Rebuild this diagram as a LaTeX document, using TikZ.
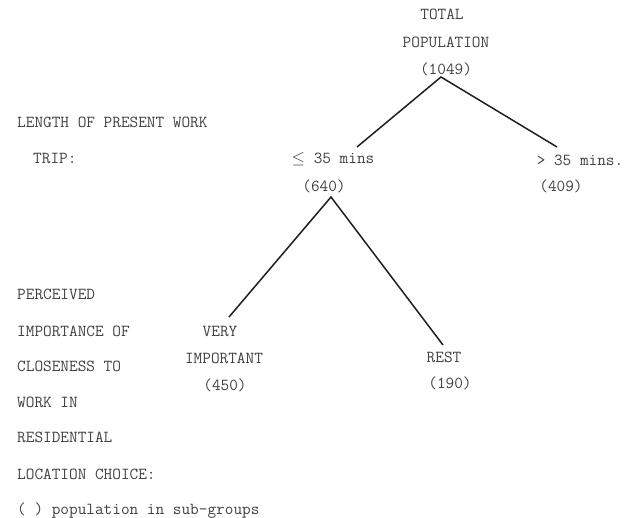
\documentclass[tikz,border=0pt]{standalone}
\begin{document}
\begin{tikzpicture}[x=1pt,y=-1pt,
  lbl/.style={font=\ttfamily\fontsize{16.8}{18}\selectfont, text=black!75, inner sep=0pt, anchor=base},
  side/.style={lbl, anchor=base west},
  branch/.style={draw=black!88, line width=1.5pt}]
\useasboundingbox (0,0) rectangle (636,518);
% tree labels
\node[lbl] (tot1) at (442,20) {TOTAL};
\node[lbl] (tot2) at (446,48) {POPULATION};
\node[lbl] (tot3) at (446,75) {(1049)};
\node[lbl] (le1) at (333,164) {$\le$ 35 mins};
\node[lbl] (le2) at (324,192) {(640)};
\node[lbl] (gt1) at (580,166) {> 35 mins.};
\node[lbl] (gt2) at (561,192) {(409)};
\node[lbl] (vi1) at (220,336) {VERY};
\node[lbl] (vi2) at (224,363) {IMPORTANT};
\node[lbl] (vi3) at (225,390) {(450)};
\node[lbl] (re1) at (444,362) {REST};
\node[lbl] (re2) at (450,388) {(190)};
% side labels
\node[side] (s1) at (17,128) {LENGTH OF PRESENT WORK};
\node[side] (s2) at (33,164) {TRIP:};
\node[side] (p1) at (17,299) {PERCEIVED};
\node[side] (p2) at (17,336) {IMPORTANCE OF};
\node[side] (p3) at (17,371) {CLOSENESS TO};
\node[side] (p4) at (17,407) {WORK IN};
\node[side] (p5) at (17,442) {RESIDENTIAL};
\node[side] (p6) at (17,479) {LOCATION CHOICE:};
\node[side] (key) at (17,514) {( ) population in sub-groups};
% branch points
\coordinate (a1) at (441,77);
\coordinate (e1) at (357,147);
\coordinate (e2) at (557,147);
\coordinate (a2) at (331,197);
\coordinate (e3) at (229,317);
\coordinate (e4) at (443,345);
\draw[branch] (e1) -- (a1) -- (e2);
\draw[branch] (e3) -- (a2) -- (e4);
\end{tikzpicture}
\end{document}
